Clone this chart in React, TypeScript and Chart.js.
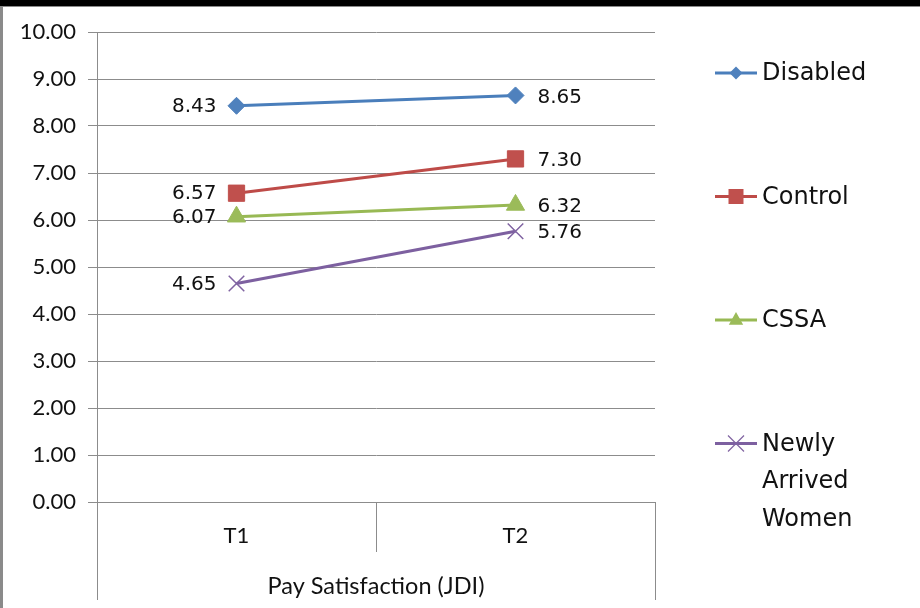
import React, { useEffect, useRef } from 'react';
import { Chart, registerables } from 'chart.js';

Chart.register(...registerables);

const categories = ['T1', 'T2'];
const groupLabel = 'Pay Satisfaction (JDI)';
const seriesNames = ['Disabled', 'Control', 'CSSA', 'Newly Arrived Women'];
const disabledValues = [8.43, 8.65];
const controlValues = [6.57, 7.3];
const cssaValues = [6.07, 6.32];
const newlyArrivedValues = [4.65, 5.76];
const yMin = 0;
const yMax = 10;
const yStep = 1;

const lineColors = ['#4A7EBB', '#BE4B48', '#98B954', '#7D60A0'];
const markerColors = ['#4F81BD', '#C0504D', '#9BBB59', '#8064A2'];
const markerStyles = ['rectRot', 'rect', 'triangle', 'crossRot'];
const markerRadii = [8.5, 11.5, 10.5, 11];

const AXIS_FONT = 'Lato, "Open Sans", sans-serif';
const LABEL_FONT = '"DejaVu Sans", Verdana, sans-serif';
const GRID = '#8c8c8c';

function drawMarker(ctx: CanvasRenderingContext2D, style: string, x: number, y: number, r: number, color: string) {
  ctx.save();
  ctx.fillStyle = color;
  ctx.strokeStyle = color;
  ctx.beginPath();
  if (style === 'rectRot') {
    ctx.moveTo(x, y - r);
    ctx.lineTo(x + r, y);
    ctx.lineTo(x, y + r);
    ctx.lineTo(x - r, y);
    ctx.closePath();
    ctx.fill();
  } else if (style === 'rect') {
    ctx.rect(x - r, y - r, 2 * r, 2 * r);
    ctx.fill();
  } else if (style === 'triangle') {
    ctx.moveTo(x, y - r);
    ctx.lineTo(x + r * 0.9, y + r * 0.6);
    ctx.lineTo(x - r * 0.9, y + r * 0.6);
    ctx.closePath();
    ctx.fill();
  } else {
    ctx.lineWidth = 1.2;
    ctx.moveTo(x - r, y - r);
    ctx.lineTo(x + r, y + r);
    ctx.moveTo(x + r, y - r);
    ctx.lineTo(x - r, y + r);
    ctx.stroke();
  }
  ctx.restore();
}

const decorPlugin = {
  id: 'decor',
  beforeDraw(chart: any) {
    const ctx: CanvasRenderingContext2D = chart.ctx;
    ctx.save();
    ctx.fillStyle = '#fff';
    ctx.fillRect(0, 0, chart.width, chart.height);
    ctx.restore();
  },
  afterDatasetsDraw(chart: any) {
    const ctx: CanvasRenderingContext2D = chart.ctx;
    ctx.save();
    ctx.font = `20px ${LABEL_FONT}`;
    ctx.fillStyle = '#111';
    ctx.textBaseline = 'middle';
    chart.data.datasets.forEach((ds: any, di: number) => {
      const meta = chart.getDatasetMeta(di);
      meta.data.forEach((pt: any, i: number) => {
        const v = ds.data[i] as number;
        const txt = v.toFixed(2);
        if (i === 0) {
          ctx.textAlign = 'right';
          ctx.fillText(txt, pt.x - 20, pt.y + 1);
        } else {
          ctx.textAlign = 'left';
          ctx.fillText(txt, pt.x + 22, pt.y + 2);
        }
      });
    });
    ctx.restore();
  },
  afterDraw(chart: any) {
    const ctx: CanvasRenderingContext2D = chart.ctx;
    const xs = chart.scales.x;
    const area = chart.chartArea;
    ctx.save();
    ctx.strokeStyle = GRID;
    ctx.lineWidth = 1;
    const mid = Math.round((xs.getPixelForValue(0) + xs.getPixelForValue(1)) / 2) + 0.5;
    const l = Math.round(area.left) + 0.5;
    const r = Math.round(area.right) + 0.5;
    ctx.beginPath();
    ctx.moveTo(mid, area.bottom);
    ctx.lineTo(mid, area.bottom + 50);
    ctx.moveTo(l, area.bottom);
    ctx.lineTo(l, area.bottom + 98);
    ctx.moveTo(r, area.bottom);
    ctx.lineTo(r, area.bottom + 98);
    ctx.stroke();
    ctx.font = `23.5px ${AXIS_FONT}`;
    ctx.fillStyle = '#111';
    ctx.textAlign = 'center';
    ctx.textBaseline = 'middle';
    ctx.fillText(groupLabel, (area.left + area.right) / 2, area.bottom + 84);
    ctx.restore();

    // legend
    ctx.save();
    const legX = area.right + 60;
    const legTop = area.top + 41;
    const legStep = 123.5;
    chart.data.datasets.forEach((ds: any, di: number) => {
      const cy = legTop + di * legStep;
      ctx.strokeStyle = lineColors[di];
      ctx.lineWidth = 3;
      ctx.beginPath();
      ctx.moveTo(legX, cy);
      ctx.lineTo(legX + 42, cy);
      ctx.stroke();
      const rr = [6.5, 7.5, 8, 8][di];
      drawMarker(ctx, markerStyles[di], legX + 21, cy, rr, markerColors[di]);
      ctx.font = `24px ${LABEL_FONT}`;
      ctx.fillStyle = '#111';
      ctx.textAlign = 'left';
      ctx.textBaseline = 'middle';
      const words = (ds.label as string).split(' ');
      const lines = words.length > 1 ? words : [ds.label];
      lines.forEach((w: string, li: number) => {
        ctx.fillText(w, legX + 47, cy + 1 + li * 37.5);
      });
    });
    ctx.restore();

    // frame
    ctx.save();
    ctx.fillStyle = '#000';
    ctx.fillRect(0, 0, chart.width, 6);
    ctx.fillStyle = '#8a8a8a';
    ctx.fillRect(0, 6, chart.width, 1);
    ctx.fillRect(0, 6, 3, chart.height - 6);
    ctx.restore();
  },
};

export default function App() {
  const canvasRef = useRef<HTMLCanvasElement | null>(null);

  useEffect(() => {
    document.body.style.margin = '0';
    if (!canvasRef.current) return;
    const seriesValues = [disabledValues, controlValues, cssaValues, newlyArrivedValues];
    const chart = new Chart(canvasRef.current, {
      type: 'line',
      data: {
        labels: categories,
        datasets: seriesNames.map((name, i) => ({
          label: name,
          data: seriesValues[i],
          borderColor: lineColors[i],
          backgroundColor: markerColors[i],
          borderWidth: 3,
          pointStyle: markerStyles[i] as any,
          pointRadius: markerRadii[i],
          pointHoverRadius: markerRadii[i],
          pointBackgroundColor: markerColors[i],
          pointBorderColor: markerColors[i],
          pointBorderWidth: i === 3 ? 1.5 : 1,
          tension: 0,
          fill: false,
        })),
      },
      options: {
        responsive: false,
        animation: false,
        devicePixelRatio: 1,
        layout: { padding: { top: 32, right: 265, bottom: 0, left: 0 } },
        plugins: {
          legend: { display: false },
          tooltip: { enabled: false },
          title: { display: false },
        },
        scales: {
          x: {
            type: 'category',
            offset: true,
            grid: { display: false, drawTicks: false },
            border: { display: false },
            ticks: {
              color: '#111',
              font: { family: AXIS_FONT, size: 22 },
              padding: 21,
              maxRotation: 0,
            },
            afterFit: (scale: any) => {
              scale.height = 106;
            },
          },
          y: {
            min: yMin,
            max: yMax,
            grid: {
              color: GRID,
              lineWidth: 1,
              drawTicks: true,
              tickLength: 9,
            },
            border: { display: true, color: GRID, width: 1 },
            ticks: {
              stepSize: yStep,
              color: '#111',
              font: { family: AXIS_FONT, size: 22 },
              padding: 12,
              callback: (v: any) => Number(v).toFixed(2),
            },
            afterFit: (scale: any) => {
              scale.width = 97;
            },
          },
        },
      },
      plugins: [decorPlugin],
    });
    return () => chart.destroy();
  }, []);

  return (
    <div style={{ position: 'relative', width: 920, height: 608, background: '#fff', overflow: 'hidden' }}>
      <canvas ref={canvasRef} width={920} height={608} style={{ display: 'block' }} />
    </div>
  );
}
